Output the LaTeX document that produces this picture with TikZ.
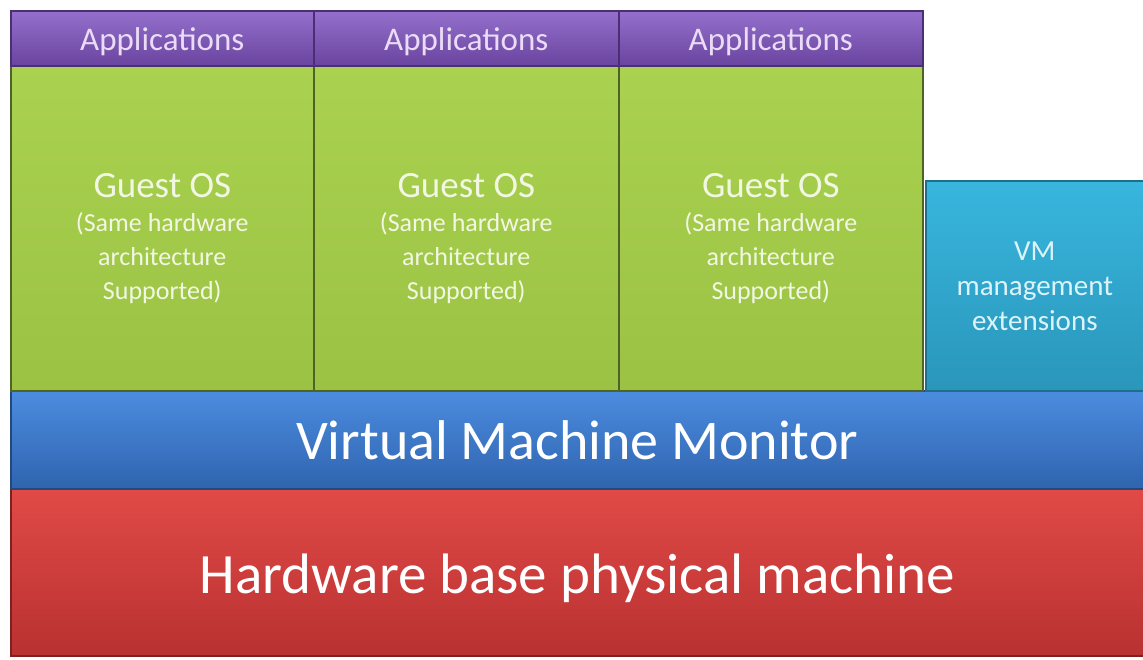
\documentclass[tikz,border=0pt]{standalone}
\usepackage{fontspec}
\setmainfont{Carlito}

% Colours of the layers
\definecolor{appTop}{HTML}{9470CC}
\definecolor{appBot}{HTML}{6A449F}
\definecolor{appLine}{HTML}{4A2F75}
\definecolor{appText}{HTML}{EADCF7}
\definecolor{osTop}{HTML}{AAD250}
\definecolor{osBot}{HTML}{9BC243}
\definecolor{osLine}{HTML}{4F6228}
\definecolor{osText}{HTML}{F2F7E4}
\definecolor{vmTop}{HTML}{38B6DE}
\definecolor{vmBot}{HTML}{2A96BA}
\definecolor{vmLine}{HTML}{1F6F8A}
\definecolor{vmText}{HTML}{DDF3FA}
\definecolor{monTop}{HTML}{4C8CE0}
\definecolor{monBot}{HTML}{2F64AE}
\definecolor{monLine}{HTML}{23487E}
\definecolor{hwTop}{HTML}{E14A46}
\definecolor{hwBot}{HTML}{B83131}
\definecolor{hwLine}{HTML}{7E2020}

\tikzset{
  layer/.style={draw, line width=1.6pt, inner sep=0pt, anchor=north west, align=center},
  appbox/.style={layer, draw=appLine, top color=appTop, bottom color=appBot,
    minimum height=55pt, text=appText, font=\fontsize{33}{36}\selectfont},
  apptext/.style={text=appText, font=\fontsize{33}{36}\selectfont},
  osbox/.style={layer, draw=osLine, top color=osTop, bottom color=osBot, minimum height=325pt},
  ostext/.style={align=center, text=osText, font=\fontsize{26}{34}\selectfont},
}

\begin{document}
\begin{tikzpicture}[x=1pt,y=-1pt]
        \useasboundingbox (0,0) rectangle (1143,659);
        
        % Hardware layer
        \node [layer, draw=hwLine, top color=hwTop, bottom color=hwBot, minimum width=1133pt, minimum height=167pt] (hw) at (10,488) {};%
        \node [text=white, font=\fontsize{57}{60}\selectfont, yshift=-6pt] (hwtext) at (hw.center) {Hardware base physical machine};%
        
        % Virtual machine monitor layer
        \node [layer, draw=monLine, top color=monTop, bottom color=monBot, minimum width=1133pt, minimum height=98pt,
          text=white, font=\fontsize{56}{60}\selectfont] (vmm) at (10,390) {Virtual Machine Monitor};%
        
        % Guest OS columns
        \node [osbox, minimum width=303pt] (os1) at (10,65) {};%
        \node [osbox, minimum width=305pt] (os2) at (313,65) {};%
        \node [osbox, minimum width=304pt] (os3) at (618,65) {};%
        \node [ostext, yshift=-10pt] (os1text) at (os1.center) {{\fontsize{37}{40}\selectfont Guest OS}\\(Same hardware\\architecture\\Supported)};%
        \node [ostext, yshift=-10pt] (os2text) at (os2.center) {{\fontsize{37}{40}\selectfont Guest OS}\\(Same hardware\\architecture\\Supported)};%
        \node [ostext, yshift=-10pt] (os3text) at (os3.center) {{\fontsize{37}{40}\selectfont Guest OS}\\(Same hardware\\architecture\\Supported)};%
        
        % Applications on top of each guest
        \node [appbox, minimum width=303pt] (app1) at (10,10) {};%
        \node [appbox, minimum width=305pt] (app2) at (313,10) {};%
        \node [appbox, minimum width=304pt] (app3) at (618,10) {};%
        \node [apptext, yshift=-3pt] (app1text) at (app1.center) {Applications};%
        \node [apptext, yshift=-3pt] (app2text) at (app2.center) {Applications};%
        \node [apptext, yshift=-3pt] (app3text) at (app3.center) {Applications};%
        
        % VM management extensions
        \node [layer, draw=vmLine, top color=vmTop, bottom color=vmBot, minimum width=218pt, minimum height=210pt,
          text=vmText, font=\fontsize{29}{35}\selectfont] (ext) at (925,180) {VM\\management\\extensions};%
\end{tikzpicture}
\end{document}
